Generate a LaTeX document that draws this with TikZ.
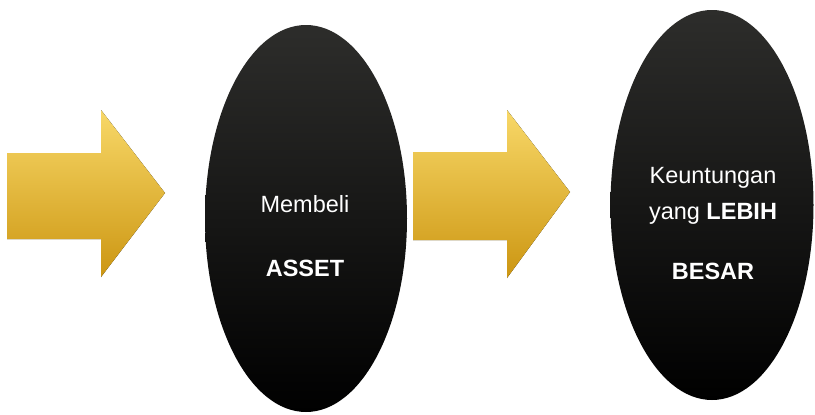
\documentclass[tikz,border=0pt]{standalone}
\usepackage{fontspec}
\setmainfont{Liberation Sans}
\usepackage{tikz}
\usetikzlibrary{shapes.geometric}

\definecolor{goldtop}{HTML}{F8D868}
\definecolor{goldmid}{HTML}{EDBD28}
\definecolor{goldbot}{HTML}{CC9612}
\definecolor{ovaltop}{HTML}{2D2D2B}

\begin{document}
\begin{tikzpicture}[x=1pt, y=-1pt]
	\tikzset{oval/.style = {shape=ellipse, inner sep=0pt, top color=ovaltop, bottom color=black, draw=none}}
	\tikzset{gold/.style = {top color=goldtop, middle color=goldmid, bottom color=goldbot, draw=none}}
	\tikzset{txt/.style = {text=white, align=center, font=\fontsize{23.5}{28}\selectfont}}
	\useasboundingbox (0,0) rectangle (815,415);
	% arrows
	\fill[gold] (7,153) -- (101,153) -- (101,110) -- (165,193) -- (101,277) -- (101,239) -- (7,239) -- cycle;
	\fill[gold] (413,152) -- (507,152) -- (507,110) -- (570,192) -- (507,278) -- (507,240) -- (413,240) -- cycle;
	% ovals
	\node[oval, minimum width=202pt, minimum height=387pt] (asset) at (306, 218.5) {};
	\node[oval, minimum width=203pt, minimum height=390pt] (untung) at (712, 205) {};
	\node[txt] (assettxt) at (305, 236.5) {Membeli\\[36pt]\textbf{ASSET}};
	\node[txt] (untungtxt) at (713, 223.3) {Keuntungan\\[8.5pt]yang \textbf{LEBIH}\\[32pt]\textbf{BESAR}};
\end{tikzpicture}
\end{document}
